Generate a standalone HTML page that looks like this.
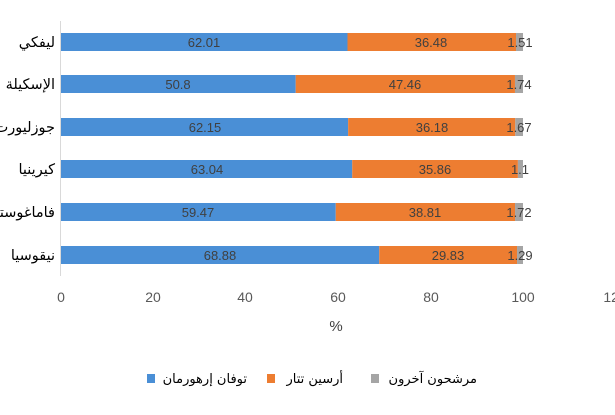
<!DOCTYPE html>
<html><head><meta charset="utf-8"><style>
body{margin:0;background:#fff;}
svg text{font-family:"Liberation Sans","DejaVu Sans",sans-serif;}
.ar{font-family:"DejaVu Sans",sans-serif !important;}
</style></head><body>
<svg width="615" height="410" viewBox="0 0 615 410" xmlns="http://www.w3.org/2000/svg">
<rect width="615" height="410" fill="#fff"/>
<line x1="60.5" y1="21" x2="60.5" y2="276" stroke="#d9d9d9" stroke-width="1"/>
<g font-size="14.5" fill="#000" text-anchor="end" class="ar">
<text class="ar" x="55" y="47">ليفكي</text>
<text class="ar" x="55" y="89">الإسكيلة</text>
<text class="ar" x="55" y="132">جوزليورت</text>
<text class="ar" x="55" y="174">كيرينيا</text>
<text class="ar" x="55" y="217">فاماغوستا</text>
<text class="ar" x="55" y="260">نيقوسيا</text>
</g>
<g>
<rect x="61" y="33" width="286.49" height="18" fill="#4a8fd6"/><rect x="347.49" y="33" width="168.54" height="18" fill="#ed7d31"/><rect x="516.03" y="33" width="6.98" height="18" fill="#a5a5a5"/>
<rect x="61" y="75" width="234.70" height="18" fill="#4a8fd6"/><rect x="295.70" y="75" width="219.27" height="18" fill="#ed7d31"/><rect x="514.97" y="75" width="8.04" height="18" fill="#a5a5a5"/>
<rect x="61" y="118" width="287.13" height="18" fill="#4a8fd6"/><rect x="348.13" y="118" width="167.15" height="18" fill="#ed7d31"/><rect x="515.28" y="118" width="7.72" height="18" fill="#a5a5a5"/>
<rect x="61" y="160" width="291.24" height="18" fill="#4a8fd6"/><rect x="352.24" y="160" width="165.67" height="18" fill="#ed7d31"/><rect x="517.91" y="160" width="5.08" height="18" fill="#a5a5a5"/>
<rect x="61" y="203" width="274.75" height="18" fill="#4a8fd6"/><rect x="335.75" y="203" width="179.30" height="18" fill="#ed7d31"/><rect x="515.05" y="203" width="7.95" height="18" fill="#a5a5a5"/>
<rect x="61" y="246" width="318.23" height="18" fill="#4a8fd6"/><rect x="379.23" y="246" width="137.81" height="18" fill="#ed7d31"/><rect x="517.04" y="246" width="5.96" height="18" fill="#a5a5a5"/>
</g>
<g font-size="13" fill="#404040" text-anchor="middle">
<text x="204" y="47">62.01</text><text x="431" y="47">36.48</text><text x="520" y="47">1.51</text>
<text x="178" y="89">50.8</text><text x="405" y="89">47.46</text><text x="519" y="89">1.74</text>
<text x="205" y="132">62.15</text><text x="432" y="132">36.18</text><text x="519" y="132">1.67</text>
<text x="207" y="174">63.04</text><text x="435" y="174">35.86</text><text x="520" y="174">1.1</text>
<text x="198" y="217">59.47</text><text x="425" y="217">38.81</text><text x="519" y="217">1.72</text>
<text x="220" y="260">68.88</text><text x="448" y="260">29.83</text><text x="520" y="260">1.29</text>
</g>
<g font-size="14" fill="#595959" text-anchor="middle">
<text x="61" y="302">0</text><text x="153" y="302">20</text><text x="245" y="302">40</text>
<text x="338" y="302">60</text><text x="431" y="302">80</text><text x="523" y="302">100</text><text x="615" y="302">120</text>
</g>
<text x="336" y="331" font-size="15" fill="#404040" text-anchor="middle">%</text>
<rect x="147" y="374" width="8" height="9" fill="#4a8fd6"/>
<text class="ar" x="247" y="383" font-size="13" text-anchor="end">توفان إرهورمان</text>
<rect x="267" y="374" width="8" height="9" fill="#ed7d31"/>
<text class="ar" x="343" y="383" font-size="13" text-anchor="end">أرسين تتار</text>
<rect x="371" y="374" width="8" height="9" fill="#a5a5a5"/>
<text class="ar" x="477" y="383" font-size="13" text-anchor="end">مرشحون آخرون</text>
</svg>
</body></html>
